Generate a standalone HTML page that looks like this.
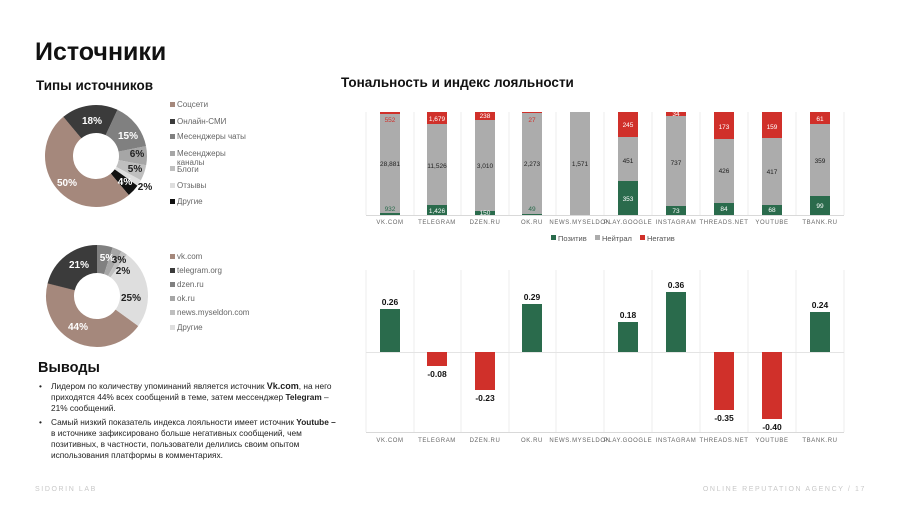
<!DOCTYPE html>
<html><head><meta charset="utf-8"><style>
html,body{margin:0;padding:0;background:#fff;}
svg{display:block;font-family:"Liberation Sans",Arial,sans-serif;}
</style></head><body>
<svg width="902" height="511" viewBox="0 0 902 511" xmlns="http://www.w3.org/2000/svg">
<rect width="902" height="511" fill="#fff"/>
<text x="35" y="60" font-size="25" font-weight="bold" fill="#111">Источники</text>
<text x="36" y="90" font-size="13.5" font-weight="bold" fill="#111">Типы источников</text>
<text x="341" y="87" font-size="13.5" font-weight="bold" fill="#111">Тональность и индекс лояльности</text>

<!-- Donut 1 -->
<g fill="none" stroke-width="28">
<circle cx="96" cy="156" r="37" stroke="#3b3b3b" stroke-dasharray="41.85 300" transform="rotate(-130 96 156)"/>
<circle cx="96" cy="156" r="37" stroke="#808080" stroke-dasharray="34.87 300" transform="rotate(-65.2 96 156)"/>
<circle cx="96" cy="156" r="37" stroke="#a6a6a6" stroke-dasharray="13.95 300" transform="rotate(-11.2 96 156)"/>
<circle cx="96" cy="156" r="37" stroke="#bfbfbf" stroke-dasharray="11.62 300" transform="rotate(10.4 96 156)"/>
<circle cx="96" cy="156" r="37" stroke="#dedede" stroke-dasharray="4.65 300" transform="rotate(28.4 96 156)"/>
<circle cx="96" cy="156" r="37" stroke="#111" stroke-dasharray="9.30 300" transform="rotate(35.6 96 156)"/>
<circle cx="96" cy="156" r="37" stroke="#a5887c" stroke-dasharray="116.24 300" transform="rotate(50 96 156)"/>
</g>
<g font-size="10" font-weight="bold" text-anchor="middle" fill="#fff">
<text x="92" y="124">18%</text><text x="128" y="139">15%</text>
<text x="137" y="157" fill="#222">6%</text><text x="135" y="172" fill="#222">5%</text>
<text x="125" y="185">4%</text><text x="145" y="190" fill="#222">2%</text>
<text x="67" y="186">50%</text>
</g>
<g font-size="8" fill="#666">
<rect x="170" y="102" width="5" height="5" fill="#a5887c"/><text x="177" y="107">Соцсети</text>
<rect x="170" y="119" width="5" height="5" fill="#3b3b3b"/><text x="177" y="124">Онлайн-СМИ</text>
<rect x="170" y="134" width="5" height="5" fill="#808080"/><text x="177" y="139">Месенджеры чаты</text>
<rect x="170" y="151" width="5" height="5" fill="#a6a6a6"/><text x="177" y="156">Месенджеры</text><text x="177" y="165">каналы</text>
<rect x="170" y="166" width="5" height="5" fill="#bfbfbf"/><text x="177" y="172">Блоги</text>
<rect x="170" y="183" width="5" height="5" fill="#dedede"/><text x="177" y="188">Отзывы</text>
<rect x="170" y="199" width="5" height="5" fill="#111"/><text x="177" y="204">Другие</text>
</g>

<!-- Donut 2 -->
<g fill="none" stroke-width="28">
<circle cx="97" cy="296" r="37" stroke="#a5887c" stroke-dasharray="102.3 300" transform="rotate(36 97 296)"/>
<circle cx="97" cy="296" r="37" stroke="#3b3b3b" stroke-dasharray="48.82 300" transform="rotate(194.4 97 296)"/>
<circle cx="97" cy="296" r="37" stroke="#808080" stroke-dasharray="11.62 300" transform="rotate(-90 97 296)"/>
<circle cx="97" cy="296" r="37" stroke="#a6a6a6" stroke-dasharray="6.97 300" transform="rotate(-72 97 296)"/>
<circle cx="97" cy="296" r="37" stroke="#bfbfbf" stroke-dasharray="4.65 300" transform="rotate(-61.2 97 296)"/>
<circle cx="97" cy="296" r="37" stroke="#dedede" stroke-dasharray="58.12 300" transform="rotate(-54 97 296)"/>
</g>
<g font-size="10" font-weight="bold" text-anchor="middle" fill="#fff">
<text x="79" y="268">21%</text><text x="107" y="261">5%</text>
<text x="119" y="263" fill="#222">3%</text><text x="123" y="274" fill="#222">2%</text>
<text x="131" y="301" fill="#222">25%</text><text x="78" y="330">44%</text>
</g>
<g font-size="8" fill="#666">
<rect x="170" y="254" width="5" height="5" fill="#a5887c"/><text x="177" y="259">vk.com</text>
<rect x="170" y="268" width="5" height="5" fill="#3b3b3b"/><text x="177" y="273">telegram.org</text>
<rect x="170" y="282" width="5" height="5" fill="#808080"/><text x="177" y="287">dzen.ru</text>
<rect x="170" y="296" width="5" height="5" fill="#a6a6a6"/><text x="177" y="301">ok.ru</text>
<rect x="170" y="310" width="5" height="5" fill="#bfbfbf"/><text x="177" y="315">news.myseldon.com</text>
<rect x="170" y="325" width="5" height="5" fill="#dedede"/><text x="177" y="330">Другие</text>
</g>

<!-- Выводы -->
<text x="38" y="372" font-size="14.5" font-weight="bold" fill="#111">Выводы</text>
<g font-size="8.3" fill="#222">
<text x="39" y="389">•</text>
<text x="51" y="389">Лидером по количеству упоминаний является источник <tspan font-weight="bold" font-size="9">Vk.com</tspan>, на него</text>
<text x="51" y="400">приходятся 44% всех сообщений в теме, затем мессенджер <tspan font-weight="bold">Telegram</tspan> –</text>
<text x="51" y="411">21% сообщений.</text>
<text x="39" y="425">•</text>
<text x="51" y="425">Самый низкий показатель индекса лояльности имеет источник <tspan font-weight="bold">Youtube –</tspan></text>
<text x="51" y="436">в источнике зафиксировано больше негативных сообщений, чем</text>
<text x="51" y="447">позитивных, в частности, пользователи делились своим опытом</text>
<text x="51" y="458">использования платформы в комментариях.</text>
</g>

<!-- Top chart -->
<g stroke="#eeeeee" stroke-width="1">
<line x1="366" y1="112" x2="366" y2="215"/><line x1="414" y1="112" x2="414" y2="215"/><line x1="461" y1="112" x2="461" y2="215"/><line x1="509" y1="112" x2="509" y2="215"/><line x1="556" y1="112" x2="556" y2="215"/><line x1="604" y1="112" x2="604" y2="215"/><line x1="652" y1="112" x2="652" y2="215"/><line x1="700" y1="112" x2="700" y2="215"/><line x1="748" y1="112" x2="748" y2="215"/><line x1="796" y1="112" x2="796" y2="215"/><line x1="844" y1="112" x2="844" y2="215"/>
<line x1="366" y1="215.5" x2="844" y2="215.5" stroke="#d9d9d9"/>
</g>
<g>
<rect x="380" y="112" width="20" height="2" fill="#d0302a"/><rect x="380" y="114" width="20" height="99" fill="#acacac"/><rect x="380" y="213" width="20" height="2" fill="#2a6b4c"/>
<rect x="427" y="112" width="20" height="12" fill="#d0302a"/><rect x="427" y="124" width="20" height="81" fill="#acacac"/><rect x="427" y="205" width="20" height="10" fill="#2a6b4c"/>
<rect x="475" y="112" width="20" height="8" fill="#d0302a"/><rect x="475" y="120" width="20" height="91" fill="#acacac"/><rect x="475" y="211" width="20" height="4" fill="#2a6b4c"/>
<rect x="522" y="112" width="20" height="1" fill="#d0302a"/><rect x="522" y="113" width="20" height="101" fill="#acacac"/><rect x="522" y="214" width="20" height="1" fill="#2a6b4c"/>
<rect x="570" y="112" width="20" height="103" fill="#acacac"/>
<rect x="618" y="112" width="20" height="25" fill="#d0302a"/><rect x="618" y="137" width="20" height="44" fill="#acacac"/><rect x="618" y="181" width="20" height="34" fill="#2a6b4c"/>
<rect x="666" y="112" width="20" height="4" fill="#d0302a"/><rect x="666" y="116" width="20" height="90" fill="#acacac"/><rect x="666" y="206" width="20" height="9" fill="#2a6b4c"/>
<rect x="714" y="112" width="20" height="27" fill="#d0302a"/><rect x="714" y="139" width="20" height="64" fill="#acacac"/><rect x="714" y="203" width="20" height="12" fill="#2a6b4c"/>
<rect x="762" y="112" width="20" height="26" fill="#d0302a"/><rect x="762" y="138" width="20" height="67" fill="#acacac"/><rect x="762" y="205" width="20" height="10" fill="#2a6b4c"/>
<rect x="810" y="112" width="20" height="12" fill="#d0302a"/><rect x="810" y="124" width="20" height="72" fill="#acacac"/><rect x="810" y="196" width="20" height="19" fill="#2a6b4c"/>
</g>
<g font-size="6.5" text-anchor="middle" fill="#222">
<text x="390" y="122" fill="#d0302a">552</text><text x="390" y="166">28,881</text><text x="390" y="211" fill="#2a6b4c">932</text>
<text x="437" y="121" fill="#fff">1,679</text><text x="437" y="168">11,526</text><text x="437" y="213" fill="#fff">1,426</text>
<text x="485" y="118" fill="#fff">238</text><text x="485" y="168">3,010</text><text x="485" y="215" fill="#fff">150</text>
<text x="532" y="122" fill="#d0302a">27</text><text x="532" y="166">2,273</text><text x="532" y="211" fill="#2a6b4c">49</text>
<text x="580" y="166">1,571</text>
<text x="628" y="127" fill="#fff">245</text><text x="628" y="163">451</text><text x="628" y="201" fill="#fff">353</text>
<text x="676" y="116" fill="#fff">34</text><text x="676" y="165">737</text><text x="676" y="213" fill="#fff">73</text>
<text x="724" y="129" fill="#fff">173</text><text x="724" y="173">426</text><text x="724" y="211" fill="#fff">84</text>
<text x="772" y="129" fill="#fff">159</text><text x="772" y="174">417</text><text x="772" y="212" fill="#fff">68</text>
<text x="820" y="121" fill="#fff">61</text><text x="820" y="163">359</text><text x="820" y="208" fill="#fff">99</text>
</g>
<g font-size="6" text-anchor="middle" fill="#666" letter-spacing="0.6">
<text x="390" y="224">VK.COM</text><text x="437" y="224">TELEGRAM</text><text x="485" y="224">DZEN.RU</text><text x="532" y="224">OK.RU</text><text x="580" y="224">NEWS.MYSELDON</text><text x="628" y="224">PLAY.GOOGLE</text><text x="676" y="224">INSTAGRAM</text><text x="724" y="224">THREADS.NET</text><text x="772" y="224">YOUTUBE</text><text x="820" y="224">TBANK.RU</text>
</g>
<g font-size="7.5" fill="#555">
<rect x="551" y="235" width="5" height="5" fill="#2a6b4c"/><text x="558" y="241">Позитив</text>
<rect x="595" y="235" width="5" height="5" fill="#acacac"/><text x="602" y="241">Нейтрал</text>
<rect x="640" y="235" width="5" height="5" fill="#d0302a"/><text x="647" y="241">Негатив</text>
</g>

<!-- Bottom chart -->
<g stroke="#eeeeee" stroke-width="1">
<line x1="366" y1="270" x2="366" y2="432"/><line x1="414" y1="270" x2="414" y2="432"/><line x1="461" y1="270" x2="461" y2="432"/><line x1="509" y1="270" x2="509" y2="432"/><line x1="556" y1="270" x2="556" y2="432"/><line x1="604" y1="270" x2="604" y2="432"/><line x1="652" y1="270" x2="652" y2="432"/><line x1="700" y1="270" x2="700" y2="432"/><line x1="748" y1="270" x2="748" y2="432"/><line x1="796" y1="270" x2="796" y2="432"/><line x1="844" y1="270" x2="844" y2="432"/>
<line x1="366" y1="352.5" x2="844" y2="352.5" stroke="#e4e4e4"/>
<line x1="366" y1="432.5" x2="844" y2="432.5" stroke="#d9d9d9"/>
</g>
<g>
<rect x="380" y="309" width="20" height="43" fill="#2a6b4c"/>
<rect x="427" y="352" width="20" height="14" fill="#d0302a"/>
<rect x="475" y="352" width="20" height="38" fill="#d0302a"/>
<rect x="522" y="304" width="20" height="48" fill="#2a6b4c"/>
<rect x="618" y="322" width="20" height="30" fill="#2a6b4c"/>
<rect x="666" y="292" width="20" height="60" fill="#2a6b4c"/>
<rect x="714" y="352" width="20" height="58" fill="#d0302a"/>
<rect x="762" y="352" width="20" height="67" fill="#d0302a"/>
<rect x="810" y="312" width="20" height="40" fill="#2a6b4c"/>
</g>
<g font-size="8.5" font-weight="bold" text-anchor="middle" fill="#111">
<text x="390" y="305">0.26</text><text x="437" y="377">-0.08</text><text x="485" y="401">-0.23</text>
<text x="532" y="300">0.29</text><text x="628" y="318">0.18</text><text x="676" y="288">0.36</text>
<text x="724" y="421">-0.35</text><text x="772" y="430">-0.40</text><text x="820" y="308">0.24</text>
</g>
<g font-size="6" text-anchor="middle" fill="#666" letter-spacing="0.6">
<text x="390" y="442">VK.COM</text><text x="437" y="442">TELEGRAM</text><text x="485" y="442">DZEN.RU</text><text x="532" y="442">OK.RU</text><text x="580" y="442">NEWS.MYSELDON</text><text x="628" y="442">PLAY.GOOGLE</text><text x="676" y="442">INSTAGRAM</text><text x="724" y="442">THREADS.NET</text><text x="772" y="442">YOUTUBE</text><text x="820" y="442">TBANK.RU</text>
</g>

<!-- Footer -->
<text x="35" y="491" font-size="7" fill="#c8c8c8" letter-spacing="1.6">SIDORIN LAB</text>
<text x="866" y="491" font-size="7" fill="#c8c8c8" letter-spacing="1.6" text-anchor="end">ONLINE REPUTATION AGENCY  /  17</text>
</svg>
</body></html>
